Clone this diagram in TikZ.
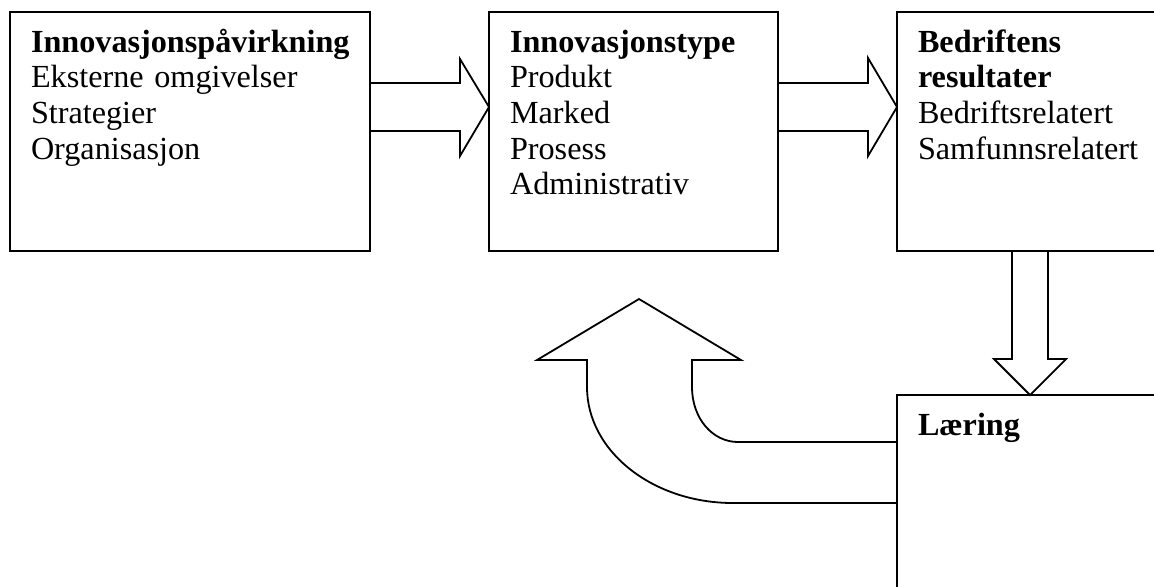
\documentclass[tikz,border=0pt]{standalone}
\usepackage{fontspec}
\setmainfont{Liberation Serif}

\begin{document}
\begin{tikzpicture}[x=0.5pt, y=-0.5pt, line width=0.9pt,
  box/.style = {draw, anchor=north west, outer sep=0pt, align=left, inner xsep=10.5pt, inner ysep=10pt, text height=10.15pt, font=\fontsize{16.1}{17.8}\selectfont},
  blk/.style = {draw, line join=miter}]

\useasboundingbox (0, 0) rectangle (1154, 586);
\clip (0, 0) rectangle (1154, 586);

\node[box, text width=159pt, text depth=89.35pt] (P) at (10, 12) {\textbf{Innovasjonspåvirkning}\\Eksterne omgivelser\\Strategier\\Organisasjon};
\node[box, text width=123.5pt, text depth=89.35pt] (T) at (489, 12) {\textbf{Innovasjonstype}\\Produkt\\Marked\\Prosess\\Administrativ};
\node[box, text width=118pt, text depth=89.35pt] (R) at (897, 12) {\textbf{Bedriftens}\\\textbf{resultater}\\Bedriftsrelatert\\Samfunnsrelatert};
\node[box, text width=118pt, text depth=72pt] (L) at (897, 395) {\textbf{Læring}};

% block arrows to the right
\draw[blk] (P.east |- 0,83) -- (460, 83) -- (460, 59) -- (T.west |- 0,107) -- (460, 156) -- (460, 131) -- (P.east |- 0,131);
\draw[blk] (T.east |- 0,83) -- (868, 83) -- (868, 58) -- (R.west |- 0,107) -- (868, 156) -- (868, 131) -- (T.east |- 0,131);

% down arrow
\draw[blk] (R.south -| 1012,0) -- (1012, 359) -- (994, 359) -- (L.north -| 1030,0) -- (1066, 359) -- (1048, 359) -- (R.south -| 1048,0);

% curved arrow back up
\draw[blk] (L.west |- 0,442) -- (738, 442) .. controls (712.6, 442) and (692, 418.5) .. (692, 387) -- (692, 360) -- (741, 360) -- (639, 299) -- (537, 360) -- (587, 360) -- (587, 387) .. controls (587, 451) and (652.4, 503) .. (733, 503) -- (L.west |- 0,503);

\end{tikzpicture}
\end{document}
